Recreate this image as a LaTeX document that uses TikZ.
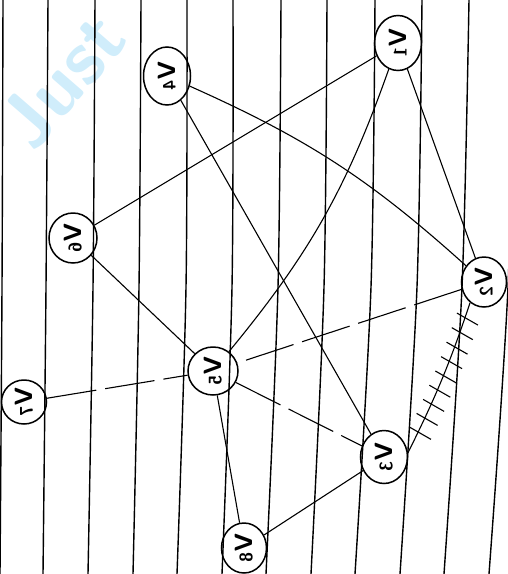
\documentclass[tikz,border=0pt]{standalone}
\usepackage{graphicx}
\usetikzlibrary{shapes.geometric,decorations.markings}
\definecolor{wm}{RGB}{208,237,251}
\newcommand{\vlab}[1]{\rotatebox{90}{\reflectbox{\sffamily\bfseries\fontsize{25}{25}\selectfont V\hspace{1pt}\fontsize{18}{18}\selectfont #1}}}
\begin{document}
\begin{tikzpicture}[x=1pt,y=-1pt,
  vert/.style={draw, ellipse, line width=1.5pt, minimum width=47pt, minimum height=51pt, inner sep=0pt},
  rule/.style={line width=1.4pt},
  edge/.style={line width=1.1pt},
  brk/.style={edge, dash pattern=on 50pt off 9pt},
  hatch/.style={edge, postaction={decorate}, decoration={markings,
    mark=between positions 0.1 and 0.95 step 0.095 with {\pgftransformresetnontranslations \draw[line width=1.1pt] (-8,-5) -- (13,7);}}}
]
\useasboundingbox (0,0) rectangle (508,574);
\node[text=wm, rotate=49, font=\sffamily\bfseries\fontsize{78}{78}\selectfont] (wmk) at (62,80) {Just};
% ruled paper lines
\draw[rule] plot[smooth] coordinates {(3,0) (2,287) (0,574)};
\draw[rule] plot[smooth] coordinates {(48,0) (46,287) (43,574)};
\draw[rule] plot[smooth] coordinates {(95,0) (93,287) (88,574)};
\draw[rule] plot[smooth] coordinates {(141,0) (139,287) (133,574)};
\draw[rule] plot[smooth] coordinates {(187,0) (186,287) (177,574)};
\draw[rule] plot[smooth] coordinates {(233,0) (232,287) (222,574)};
\draw[rule] plot[smooth] coordinates {(281,0) (278,287) (266,574)};
\draw[rule] plot[smooth] coordinates {(327,0) (324,287) (311,574)};
\draw[rule] plot[smooth] coordinates {(375,0) (371,287) (355,574)};
\draw[rule] plot[smooth] coordinates {(422,0) (417,287) (400,574)};
\draw[rule] plot[smooth] coordinates {(469,0) (462,287) (444,574)};
\draw[rule] plot[smooth] coordinates {(514,0) (508,287) (489,574)};
% vertices
\node[vert, minimum width=47pt, minimum height=55pt] (v1) at (398,43) {\vlab{1}};
\node[vert, minimum width=47pt, minimum height=58pt] (v4) at (167,76) {\vlab{4}};
\node[vert, minimum width=48pt, minimum height=50pt] (v6) at (73,238) {\vlab{6}};
\node[vert, minimum width=45pt, minimum height=50pt] (v2) at (484,282) {\vlab{2}};
\node[vert, minimum width=50pt, minimum height=48pt] (v5) at (213,371) {\vlab{5}};
\node[vert, minimum width=45pt, minimum height=44pt] (v7) at (24,402) {\vlab{7}};
\node[vert, minimum width=47pt, minimum height=53pt] (v3) at (384,457) {\vlab{3}};
\node[vert, minimum width=45pt, minimum height=50pt] (v8) at (244,548) {\vlab{8}};
% edges
\draw[edge] (v4) to[bend left=9] (v2);
\draw[edge] (v4) -- (v3);
\draw[edge] (v6) -- (v1);
\draw[edge] (v6) -- (v5);
\draw[edge] (v1) to[bend left=10] (v5);
\draw[edge] (v1) -- (v2);
\draw[brk] (v2) -- (v5);
\draw[brk] (v5) -- (v3);
\draw[brk] (v7) -- (v5);
\draw[edge] (v5) -- (v8);
\draw[edge] (v3) -- (v8);
\draw[hatch] (v2.236) to[bend left=4] (v3.10);
\end{tikzpicture}
\end{document}
